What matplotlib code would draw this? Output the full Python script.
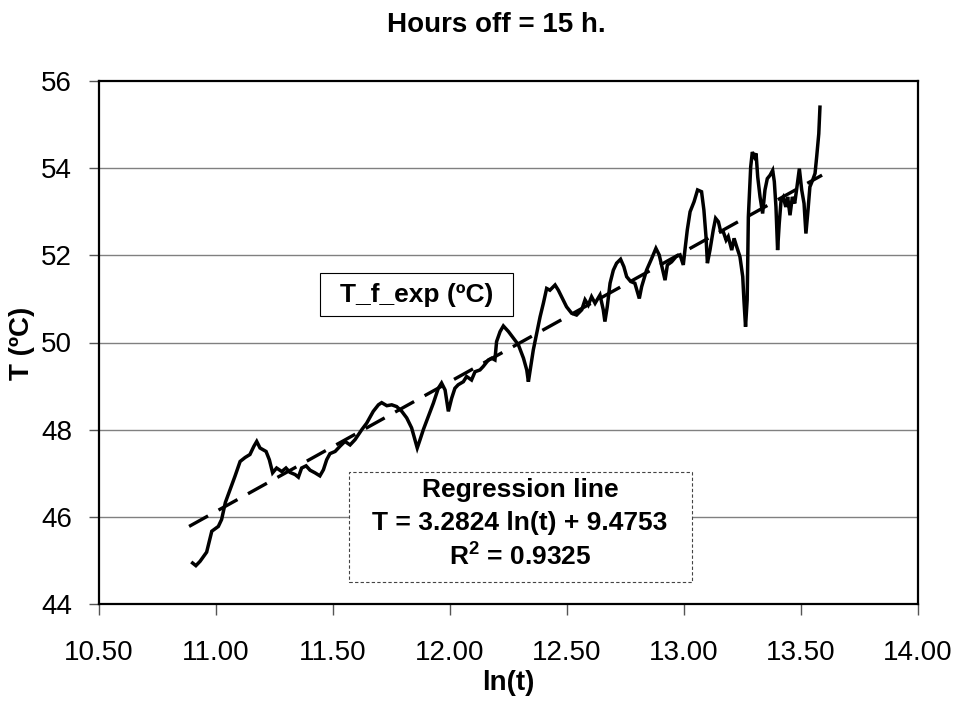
import matplotlib
matplotlib.use("Agg")
import matplotlib.pyplot as plt
from matplotlib.patches import Rectangle

plt.rcParams['font.family'] = ['Liberation Sans', 'DejaVu Sans']
plt.rcParams['mathtext.fontset'] = 'custom'
plt.rcParams['mathtext.rm'] = 'Liberation Sans'
plt.rcParams['mathtext.bf'] = 'Liberation Sans:bold'

# measured series: ln(t) vs T_f_exp
ln_t = [10.900, 10.914, 10.932, 10.960, 10.982, 11.010, 11.024, 11.040, 11.060, 11.081,
        11.103, 11.124, 11.145, 11.162, 11.174, 11.188, 11.214, 11.228, 11.242, 11.259,
        11.281, 11.299, 11.316, 11.338, 11.352, 11.366, 11.385, 11.402, 11.423, 11.444,
        11.459, 11.473, 11.487, 11.509, 11.530, 11.551, 11.573, 11.594, 11.623, 11.644,
        11.672, 11.694, 11.708, 11.730, 11.751, 11.772, 11.794, 11.815, 11.836, 11.850,
        11.860, 11.872, 11.886, 11.907, 11.929, 11.950, 11.964, 11.979, 11.993, 12.007,
        12.021, 12.035, 12.057, 12.071, 12.092, 12.107, 12.128, 12.142, 12.164, 12.178,
        12.192, 12.199, 12.214, 12.228, 12.250, 12.271, 12.292, 12.314, 12.328, 12.335,
        12.345, 12.356, 12.368, 12.385, 12.399, 12.413, 12.427, 12.449, 12.463, 12.477,
        12.498, 12.520, 12.541, 12.563, 12.577, 12.591, 12.605, 12.620, 12.641, 12.655,
        12.662, 12.672, 12.684, 12.698, 12.712, 12.729, 12.743, 12.755, 12.772, 12.790,
        12.809, 12.819, 12.840, 12.862, 12.880, 12.894, 12.912, 12.919, 12.929, 12.947,
        12.966, 12.983, 12.997, 13.004, 13.014, 13.026, 13.043, 13.058, 13.075, 13.085,
        13.094, 13.100, 13.111, 13.125, 13.135, 13.147, 13.157, 13.168, 13.180, 13.189,
        13.204, 13.214, 13.225, 13.239, 13.251, 13.256, 13.263, 13.270, 13.275, 13.285,
        13.292, 13.301, 13.308, 13.315, 13.325, 13.336, 13.346, 13.356, 13.368, 13.379,
        13.386, 13.393, 13.400, 13.407, 13.415, 13.424, 13.435, 13.443, 13.453, 13.463,
        13.473, 13.481, 13.493, 13.503, 13.513, 13.521, 13.530, 13.538, 13.550, 13.560,
        13.567, 13.576, 13.581]
temp = [44.94, 44.88, 44.98, 45.19, 45.67, 45.78, 45.94, 46.33, 46.62, 46.93,
        47.27, 47.36, 47.43, 47.62, 47.73, 47.58, 47.50, 47.31, 47.01, 47.12,
        47.04, 47.12, 47.02, 46.97, 46.91, 47.12, 47.17, 47.07, 47.01, 46.94,
        47.08, 47.31, 47.45, 47.50, 47.62, 47.73, 47.65, 47.77, 48.00, 48.15,
        48.42, 48.57, 48.62, 48.55, 48.57, 48.53, 48.42, 48.27, 48.04, 47.77,
        47.58, 47.77, 48.00, 48.30, 48.61, 48.95, 49.07, 48.91, 48.42, 48.72,
        48.95, 49.03, 49.10, 49.22, 49.14, 49.33, 49.37, 49.45, 49.60, 49.64,
        49.60, 50.02, 50.25, 50.38, 50.25, 50.10, 49.95, 49.64, 49.37, 49.10,
        49.45, 49.83, 50.14, 50.59, 50.90, 51.24, 51.20, 51.32, 51.20, 51.05,
        50.82, 50.67, 50.63, 50.75, 50.98, 50.86, 51.05, 50.90, 51.09, 50.75,
        50.48, 50.82, 51.36, 51.66, 51.82, 51.91, 51.74, 51.51, 51.40, 51.36,
        51.01, 51.28, 51.66, 51.93, 52.16, 52.01, 51.59, 51.43, 51.78, 51.85,
        51.97, 52.01, 51.78, 52.12, 52.58, 53.00, 53.23, 53.50, 53.46, 53.04,
        52.43, 51.82, 52.12, 52.58, 52.85, 52.77, 52.54, 52.54, 52.35, 52.43,
        52.12, 52.39, 52.20, 51.97, 51.51, 50.98, 50.36, 50.98, 52.88, 54.03,
        54.37, 54.26, 54.34, 53.80, 53.34, 52.96, 53.50, 53.76, 53.84, 53.95,
        53.69, 53.11, 52.12, 52.73, 53.27, 53.34, 53.11, 53.34, 52.92, 53.34,
        53.19, 53.50, 53.99, 53.50, 53.19, 52.50, 53.04, 53.57, 53.73, 53.88,
        54.26, 54.79, 55.40]

# regression line as drawn on the chart
reg_x = [10.885, 13.59]
reg_y = [45.78, 53.84]

x_ticks = [10.5, 11.0, 11.5, 12.0, 12.5, 13.0, 13.5, 14.0]
y_ticks = [44, 46, 48, 50, 52, 54, 56]

W, H = 956, 709


def fx(px):
    return px / W


def fy(py):
    return 1 - py / H


fig = plt.figure(figsize=(W / 100, H / 100), dpi=100)
ax = fig.add_axes([fx(99), fy(604), fx(918) - fx(99), fy(81) - fy(604)])

ax.plot(ln_t, temp, color='black', lw=2.5, solid_joinstyle='miter', zorder=3)
ax.plot(reg_x, reg_y, color='black', lw=2.4, dashes=(6.5, 3.6), zorder=4)

ax.set_xlim(10.5, 14.0)
ax.set_ylim(44, 56)
ax.set_xticks(x_ticks)
ax.set_xticklabels(['%.2f' % v for v in x_ticks])
ax.set_yticks(y_ticks)
for v in y_ticks[1:-1]:
    ax.axhline(v, color='#808080', lw=1.0, zorder=1)

for s in ax.spines.values():
    s.set_linewidth(1.6)
    s.set_color('black')

ax.tick_params(axis='x', direction='out', length=8, width=1, color='#555555',
               labelsize=20, pad=18)
ax.tick_params(axis='y', direction='out', length=7.5, width=1, color='#555555',
               labelsize=20, pad=12)

fig.text(fx(496), fy(25), 'Hours off = 15 h.', ha='center', va='center',
         fontsize=20, fontweight='bold')
fig.text(fx(508), fy(683), 'ln(t)', ha='center', va='center',
         fontsize=20, fontweight='bold')
fig.text(fx(22), fy(343), 'T (ºC)', ha='center', va='center', rotation=90,
         fontsize=20, fontweight='bold')

# series label box
fig.add_artist(Rectangle((fx(320), fy(316)), fx(513) - fx(320), fy(273) - fy(316),
                         transform=fig.transFigure, fill=True, fc='white',
                         ec='black', lw=0.8, zorder=5))
fig.text(fx(417), fy(295), 'T_f_exp (ºC)', ha='center', va='center',
         fontsize=19, fontweight='bold', zorder=6)

# regression label box
fig.add_artist(Rectangle((fx(349), fy(582)), fx(692) - fx(349), fy(472) - fy(582),
                         transform=fig.transFigure, fill=True, fc='white',
                         ec='#444444', lw=0.8, linestyle=(0, (3, 2)), zorder=5))
fig.text(fx(520), fy(490), 'Regression line', ha='center', va='center',
         fontsize=19, fontweight='bold', zorder=6)
fig.text(fx(520), fy(523), 'T = 3.2824 ln(t) + 9.4753', ha='center', va='center',
         fontsize=19, fontweight='bold', zorder=6)
fig.text(fx(520), fy(556), r'R$^{\mathbf{2}}$ = 0.9325', ha='center', va='center',
         fontsize=19, fontweight='bold', zorder=6)

fig.savefig('out.png', dpi=100)
